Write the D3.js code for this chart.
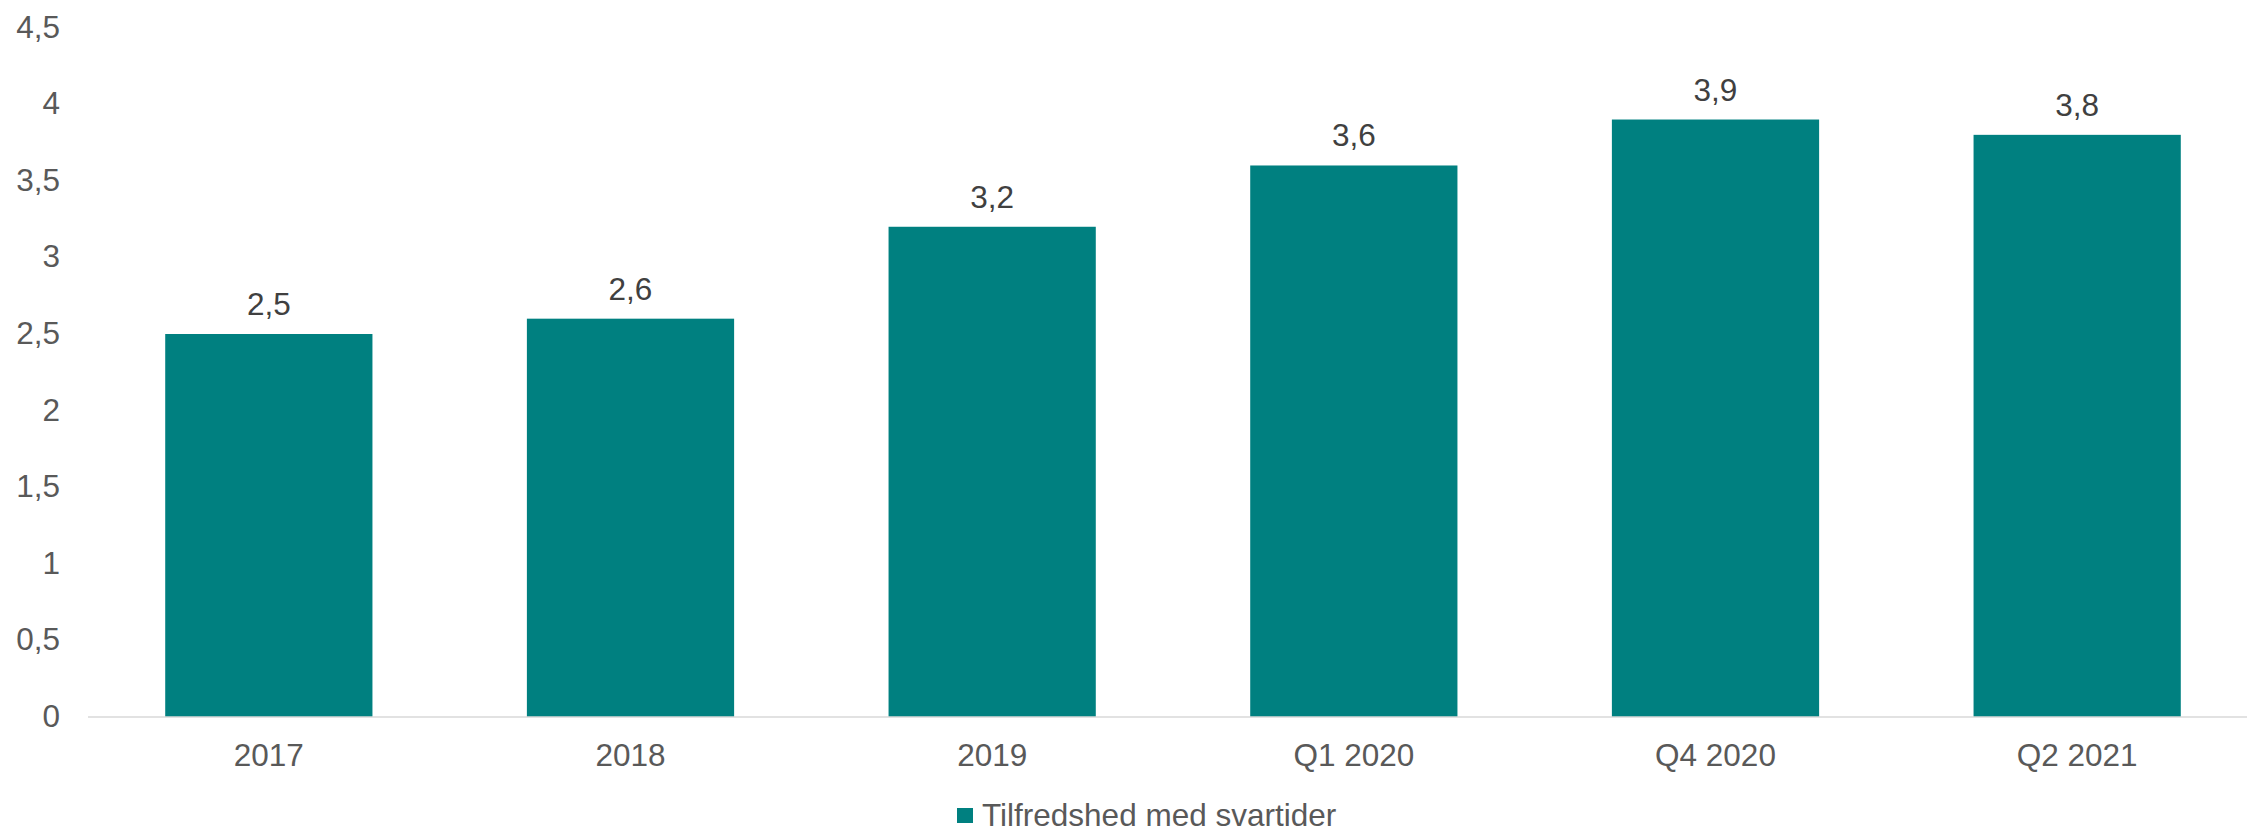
<!DOCTYPE html>
<html>
<head>
<meta charset="utf-8">
<script src="https://cdn.jsdelivr.net/npm/d3@7"></script>
<style>
  html, body { margin: 0; padding: 0; background: #fff; }
  svg { display: block; }
  text { font-family: "Liberation Sans", Arial, sans-serif; }
</style>
</head>
<body>
<svg id="chart" width="2247" height="828"></svg>
<script>
const categories = ["2017", "2018", "2019", "Q1 2020", "Q4 2020", "Q2 2021"];
const values = [2.5, 2.6, 3.2, 3.6, 3.9, 3.8];
const valueLabels = ["2,5", "2,6", "3,2", "3,6", "3,9", "3,8"];
const yTicks = [0, 0.5, 1, 1.5, 2, 2.5, 3, 3.5, 4, 4.5];
const yTickLabels = ["0", "0,5", "1", "1,5", "2", "2,5", "3", "3,5", "4", "4,5"];
const seriesName = "Tilfredshed med svartider";

const W = 2247, H = 828;
const svg = d3.select("#chart");
const fontSize = 31.5;

const x = d3.scaleBand().domain(categories).range([88, 2258]).paddingInner(0.427).paddingOuter(0.2135);
const y = d3.scaleLinear().domain([0, 4.5]).range([717, 27.6]);

// bars
svg.append("g").selectAll("rect").data(values).join("rect")
  .attr("x", (d, i) => x(categories[i]))
  .attr("y", d => y(d))
  .attr("width", x.bandwidth())
  .attr("height", d => y(0) - y(d))
  .attr("fill", "#008080");

// x axis line
svg.append("line")
  .attr("x1", 88).attr("x2", W)
  .attr("y1", y(0)).attr("y2", y(0))
  .attr("stroke", "#d9d9d9").attr("stroke-width", 1.5);

// y tick labels
svg.append("g").selectAll("text").data(yTicks).join("text")
  .attr("x", 60)
  .attr("y", d => y(d))
  .attr("dy", "0.32em")
  .attr("text-anchor", "end")
  .attr("font-size", fontSize)
  .attr("fill", "#595959")
  .text((d, i) => yTickLabels[i]);

// x labels
svg.append("g").selectAll("text").data(categories).join("text")
  .attr("x", d => x(d) + x.bandwidth() / 2)
  .attr("y", y(0) + 49)
  .attr("text-anchor", "middle")
  .attr("font-size", fontSize)
  .attr("fill", "#595959")
  .text(d => d);

// data labels
svg.append("g").selectAll("text").data(values).join("text")
  .attr("x", (d, i) => x(categories[i]) + x.bandwidth() / 2)
  .attr("y", d => y(d) - 19)
  .attr("text-anchor", "middle")
  .attr("font-size", fontSize)
  .attr("fill", "#404040")
  .text((d, i) => valueLabels[i]);

// legend
const lg = svg.append("g");
lg.append("rect").attr("x", 957).attr("y", 808).attr("width", 16).attr("height", 15).attr("fill", "#008080");
lg.append("text").attr("x", 982).attr("y", 825.5)
  .attr("font-size", fontSize).attr("fill", "#595959").text(seriesName);
</script>
</body>
</html>
